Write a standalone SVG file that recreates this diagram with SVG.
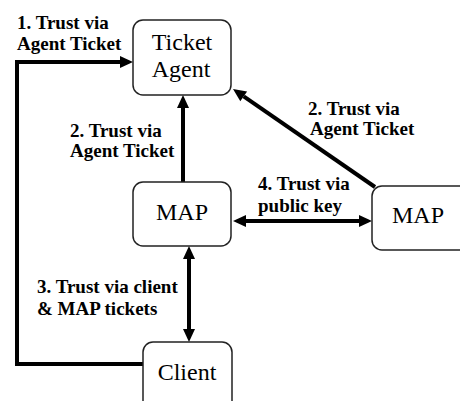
<svg xmlns="http://www.w3.org/2000/svg" width="460" height="401" viewBox="0 0 460 401">
<style>
.box{fill:#fff;stroke:#222;stroke-width:1.5}
.nt{font-family:"Liberation Serif","Times New Roman",serif;font-size:24px;fill:#000;text-anchor:middle}
.lb{font-family:"Liberation Serif","Times New Roman",serif;font-size:19px;font-weight:bold;fill:#000}
.cn{fill:none;stroke:#000;stroke-width:4}
</style>
<defs>
<marker id="ah" markerUnits="userSpaceOnUse" markerWidth="14" markerHeight="13" refX="0" refY="6" orient="auto-start-reverse" viewBox="0 0 14 12" overflow="visible">
<path d="M0,0 L13,6 L0,12 z" fill="#000"/>
</marker>
</defs>
<rect width="460" height="401" fill="#fff"/>
<g id="connectors">
<path class="cn" d="M144,364 H17 V62 H120" marker-end="url(#ah)"/>
<path class="cn" d="M183,182 V108" marker-end="url(#ah)"/>
<path class="cn" d="M375,187 L243.7,96.4" marker-end="url(#ah)"/>
<path class="cn" d="M246,221 H359" marker-start="url(#ah)" marker-end="url(#ah)"/>
<path class="cn" d="M189,259 V329" marker-start="url(#ah)" marker-end="url(#ah)"/>
</g>
<g id="ticket-agent">
<rect class="box" x="133" y="20" width="98" height="75" rx="10"/>
<text class="nt" x="182" y="50">Ticket</text>
<text class="nt" x="181" y="77">Agent</text>
</g>
<g id="map-center">
<rect class="box" x="133" y="182" width="98" height="64" rx="10"/>
<text class="nt" x="182" y="220">MAP</text>
</g>
<g id="map-right">
<rect class="box" x="372" y="186" width="110" height="64" rx="10"/>
<text class="nt" x="418" y="223">MAP</text>
</g>
<g id="client">
<rect class="box" x="143" y="342" width="89" height="80" rx="10"/>
<text class="nt" x="187" y="380">Client</text>
</g>
<g id="labels">
<text class="lb" x="17" y="29">1. Trust via</text>
<text class="lb" x="17" y="50">Agent Ticket</text>
<text class="lb" x="70" y="137">2. Trust via</text>
<text class="lb" x="70" y="157">Agent Ticket</text>
<text class="lb" x="308" y="115">2. Trust via</text>
<text class="lb" x="310" y="135">Agent Ticket</text>
<text class="lb" x="258" y="190">4. Trust via</text>
<text class="lb" x="258" y="212">public key</text>
<text class="lb" x="37" y="293">3. Trust via client</text>
<text class="lb" x="37" y="315">&amp; MAP tickets</text>
</g>
</svg>
